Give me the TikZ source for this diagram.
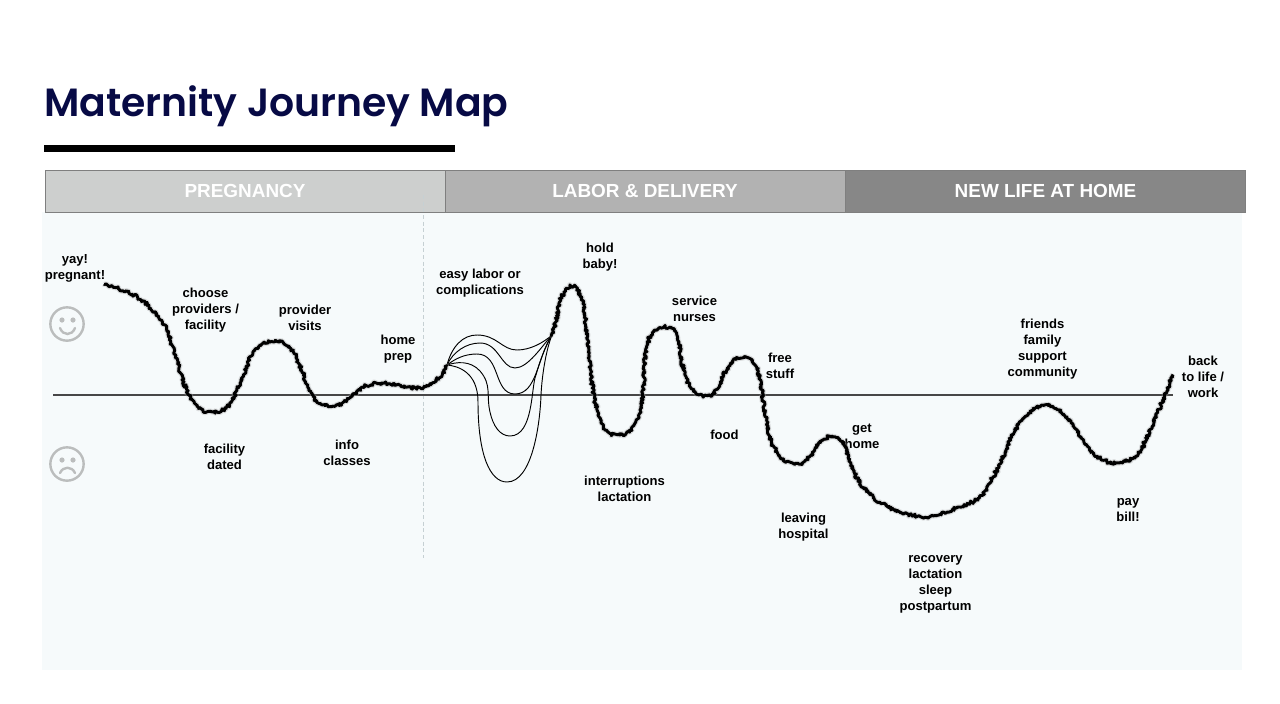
\documentclass[tikz,border=0pt]{standalone}
\usepackage{fontspec}
\setmainfont{Liberation Sans}
\newfontfamily\titlefont{Poppins}[BoldFont={Poppins SemiBold}]
\definecolor{panel}{HTML}{F6FAFB}
\definecolor{bandA}{HTML}{CDCFCE}
\definecolor{bandB}{HTML}{B2B2B2}
\definecolor{bandC}{HTML}{878787}
\definecolor{bandline}{HTML}{7F7F7F}
\definecolor{titleblue}{HTML}{070A45}
\definecolor{dashgray}{HTML}{C6D0D3}
\definecolor{facegray}{HTML}{BBBDBD}
\tikzset{
  lbl/.style={font=\fontsize{9.8}{12}\selectfont\bfseries,align=center,text=black,inner sep=0pt},
  band/.style={draw=bandline,line width=.5pt,minimum height=31.5pt,inner sep=0pt,text=white,font=\fontsize{14.2}{16}\selectfont\bfseries},
  thin curve/.style={draw=black,line width=.7pt},
  fuzzy/.style={draw=black,line width=2.2pt,line join=round},
  halo/.style={draw=gray!70,line width=4pt,line join=round,opacity=.35},
  face/.style={draw=facegray,line width=1.8pt,fill=panel,circle,minimum size=25pt,inner sep=0pt},
}
% Catmull-Rom sampling with jitter, gives the scratchy line
\newcommand\jSegment{%
  \pgfmathsetmacro\jLen{veclen(\jXc-\jXb,\jYc-\jYb)}%
  \pgfmathtruncatemacro\jN{max(2,int(\jLen/1.3))}%
  \foreach \jI in {1,...,\jN}{%
    \pgfmathsetmacro\jT{\jI/\jN}%
    \pgfmathsetmacro\jQx{0.5*(2*\jXb+(\jXc-\jXa)*\jT+(2*\jXa-5*\jXb+4*\jXc-\jXd)*\jT*\jT+(3*\jXb-\jXa-3*\jXc+\jXd)*\jT*\jT*\jT)+1.5*rand}%
    \pgfmathsetmacro\jQy{0.5*(2*\jYb+(\jYc-\jYa)*\jT+(2*\jYa-5*\jYb+4*\jYc-\jYd)*\jT*\jT+(3*\jYb-\jYa-3*\jYc+\jYd)*\jT*\jT*\jT)+1.5*rand}%
    \xdef\jAcc{\jAcc -- (\jQx,\jQy)}%
  }%
}
\newcommand\jBuild[2]{%
  \gdef\jAcc{}\gdef\jCnt{0}%
  \foreach \jXd/\jYd in {#2}{%
    \pgfmathtruncatemacro\jNew{\jCnt+1}\xdef\jCnt{\jNew}%
    \ifnum\jNew>3 \jSegment\fi
    \global\let\jXa\jXb \global\let\jYa\jYb
    \global\let\jXb\jXc \global\let\jYb\jYc
    \global\let\jXc\jXd \global\let\jYc\jYd
  }%
  \global\let#1\jAcc
}
\pgfmathsetseed{7}
\begin{document}
\begin{tikzpicture}[x=.75pt,y=-.75pt]
\useasboundingbox (0,0) rectangle (1280,703);
\fill[panel] (42,212) rectangle (1242,670);
\node[anchor=base west,inner sep=0pt,text=titleblue,font=\titlefont\fontsize{29.5}{32}\selectfont\bfseries] (title) at (44,116) {Maternity Journey Map};
\fill[black] (44,145) rectangle (454.5,152);
\node[band,fill=bandA,minimum width=300pt] (b1) at (245,191) {PREGNANCY};
\node[band,fill=bandB,minimum width=300pt] (b2) at (645,191) {LABOR \& DELIVERY};
\node[band,fill=bandC,minimum width=300pt] (b3) at (1045.5,191) {NEW LIFE AT HOME};
\draw[dashgray,line width=.8pt,dash pattern=on 3pt off 2pt] (423.5,195) -- (423.5,558);
\draw[black!72,line width=.8pt] (53,395) -- (1173,395);
% faces
\node[face] (happy) at (67,324) {};
\fill[facegray] (62,320) circle (2.6) (73,320) circle (2.6);
\draw[facegray,line width=1.8pt,line cap=round] (60,328) .. controls (63,336) and (72,336) .. (75,328);
\node[face] (sad) at (67,464) {};
\fill[facegray] (62,460) circle (2.6) (73,460) circle (2.6);
\draw[facegray,line width=1.8pt,line cap=round] (60,473) .. controls (63,466) and (72,466) .. (75,473);
% labels
\node[lbl] (l1) at (75,268) {yay!\\pregnant!};
\node[lbl] (l2) at (205.5,310) {choose\\providers /\\facility};
\node[lbl] (l3) at (305,318) {provider\\visits};
\node[lbl] (l4) at (398,349.5) {home\\prep};
\node[lbl] (l5) at (224.5,456.5) {facility\\dated};
\node[lbl] (l6) at (347,453) {info\\classes};
\node[lbl] (l7) at (480,283) {easy labor or\\complications};
\node[lbl] (l8) at (600,257.5) {hold\\baby!};
\node[lbl] (l9) at (694.5,308.5) {service\\nurses};
\node[lbl] (l10) at (780,365.5) {free\\stuff};
\node[lbl] (l11) at (724.5,435) {food};
\node[lbl] (l12) at (624.5,488.5) {interruptions\\lactation};
\node[lbl] (l13) at (862,436.5) {get\\home};
\node[lbl] (l14) at (803.5,527) {leaving\\hospital};
\node[lbl] (l15) at (935.5,584.5) {recovery\\lactation\\sleep\\postpartum};
\node[lbl] (l16) at (1042.5,349.5) {friends\\family\\support\\community};
\node[lbl] (l17) at (1128,510) {pay\\bill!};
\node[lbl] (l18) at (1203,376.5) {back\\to life /\\work};
% branches
\coordinate (bs) at (447,365);
\coordinate (be) at (552,335);
\draw[thin curve] (bs) .. controls (452,346) and (463,335) .. (477,335) .. controls (497,335) and (502,350) .. (517,350) .. controls (530,350) and (543,343) .. (be);
\draw[thin curve] (bs) .. controls (453,352) and (466,343) .. (480,343) .. controls (499,343) and (501,368) .. (515,368) .. controls (528,368) and (542,346) .. (be);
\draw[thin curve] (bs) .. controls (455,359) and (464,354) .. (477,354) .. controls (501,354) and (493,394) .. (515,394) .. controls (537,394) and (537,358) .. (be);
\draw[thin curve] (bs) .. controls (456,362) and (470,360) .. (480,371) .. controls (492,385) and (486,395) .. (490,412) .. controls (493,426) and (500,436) .. (510,436) .. controls (534,436) and (531,385) .. (536,375) .. controls (540,360) and (546,345) .. (be);
\draw[thin curve] (bs) .. controls (458,366) and (478,372) .. (478,402) .. controls (478,455) and (490,482) .. (507,482) .. controls (532,482) and (540,425) .. (541,395) .. controls (542,375) and (546,350) .. (be);
% journey
\jBuild\jPathA{104/284,104/284,117/288,130/293,145/303,157/315,167/330,172/345,177/360,183/380,188/393,195/404,203/410,212/412,222/410,231/402,238/388,244/374,250/358,257/348,265/343,275/341,285/344,293/351,300/366,306/382,312/395,319/403,332/406,342/403,352/396,362/388,372/384,380/383,396/385,413/388,425/387,435/381,442/374,447/365,447/365}
\jBuild\jPathB{552/335,552/335,556/322,558/310,562/296,567/289,572/286,578/290,583/302,586/325,590/363,593/390,597/410,603/427,610/433,617/435,625/434,632/428,638/418,642/400,644/375,646/350,651/335,657/329,665/327,673/330,678/338,681/355,684/372,689/385,695/392,703/396,712/395,718/388,724/374,731/363,738/358,744/357,751/360,757/368,761/385,764/405,767/425,771/440,776/451,783/460,790/463,797/464,804/462,811/455,817/446,824/439,832/436,840/440,846/448,850/462,855/475,863/487,873/497,885/505,900/512,923/517,940/514,957/508,972/502,983/493,993/477,1003/457,1012/436,1022/420,1032/410,1043/406,1053/407,1063/413,1073/425,1083/440,1092/452,1100/458,1108/462,1117/463,1127/461,1137/455,1146/440,1153/423,1163/400,1173/375,1173/375}
\draw[halo] (104,284) \jPathA;
\draw[halo] (552,335) \jPathB;
\draw[fuzzy] (104,284) \jPathA;
\draw[fuzzy] (552,335) \jPathB;
\end{tikzpicture}
\end{document}
